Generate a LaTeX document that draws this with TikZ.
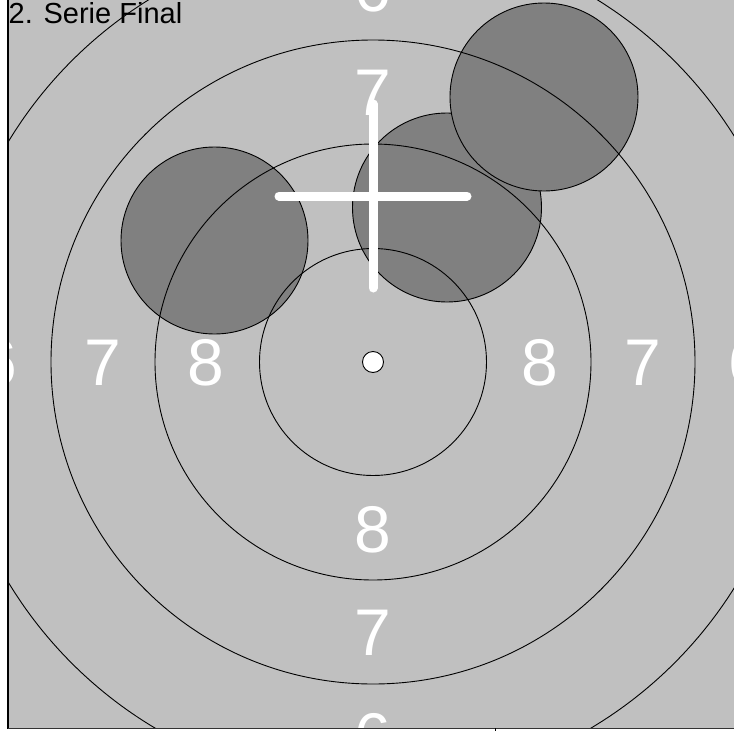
\documentclass[tikz,border=0pt]{standalone}
\usepackage{fontspec}
\setmainfont{Liberation Sans}
\usetikzlibrary{calc}
\definecolor{bg}{HTML}{C0C0C0}
\definecolor{shot}{HTML}{808080}
\begin{document}
\begin{tikzpicture}[x=1pt,y=-1pt,
  ring/.style={draw=black,line width=0.9pt},
  shotc/.style={fill=shot,draw=black,line width=0.9pt},
  lab/.style={text=white,font=\fontsize{66}{66}\selectfont,anchor=base,inner sep=0pt},
  cross/.style={draw=white,line width=9pt,line cap=round}]
\useasboundingbox (0,0) rectangle (734,731);
\fill[white] (0,0) rectangle (734,731);
\fill[bg] (8,0) rectangle (734,728);
\coordinate (c) at (373,362);
\begin{scope}
\clip (8,0) rectangle (734,728);
\foreach \d/\t in {167/8,270/7,374/6}{
  \node[lab] at ($(c)+(-\d,23.5)$) {\t};
  \node[lab] at ($(c)+(\d,23.5)$) {\t};
  \node[lab] at ($(c)+(0,23.5-\d)$) {\t};
  \node[lab] at ($(c)+(0,23.5+\d)$) {\t};
}
\draw[shotc] (214.5,240.5) circle (93.5);
\draw[shotc] (447,207.5) circle (94.5);
\draw[shotc] (544,97) circle (94);
\foreach \r in {113.5,218,322,426} \draw[ring] (c) circle (\r);
\end{scope}
\coordinate (vt) at (373,104);
\coordinate (vb) at (373,288);
\coordinate (hl) at (279,196);
\coordinate (hr) at (467,196);
\draw[cross] (vt) -- (vb);
\draw[cross] (hl) -- (hr);
\node[circle,fill=white,draw=black,line width=0.9pt,minimum size=21pt,inner sep=0pt] (dot) at (c) {};
\draw[black,line width=1.3pt] (8,0) -- (8,729);
\draw[black!80,line width=1pt] (8,728) -- (734,728);
\draw[black,line width=0.8pt] (495,728) -- (495,731);
\node[anchor=base west,inner sep=0pt,font=\fontsize{29}{29}\selectfont] (title) at (8.5,23) {2. Serie Final};
\end{tikzpicture}
\end{document}
